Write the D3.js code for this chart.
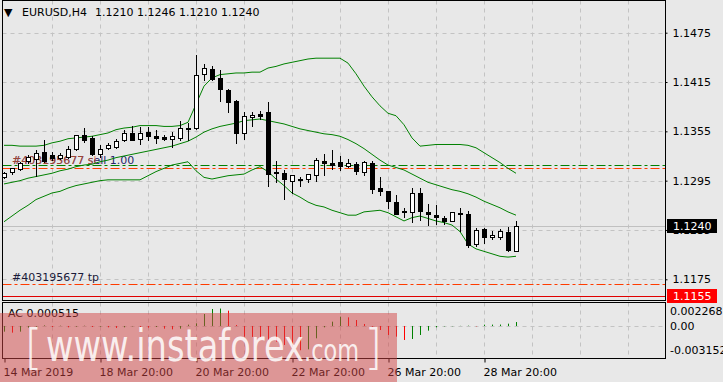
<!DOCTYPE html>
<html>
<head>
<meta charset="utf-8">
<script src="https://cdn.jsdelivr.net/npm/d3@7"></script>
<style>
  body { margin: 0; background: #e8e8e8; }
  text { font-family: "DejaVu Sans", sans-serif; font-size: 11px; }
</style>
</head>
<body>
<div id="chart"></div>
<script>
// EURUSD H4 candles, 14 Mar 2019 20:00 .. 29 Mar 2019 12:00
const opens  = [1.1300,1.1305,1.1309,1.1319,1.1321,1.1330,1.1326,1.1323,1.1324,1.1333,1.1351,1.1347,1.1328,1.1335,1.1336,1.1344,1.1353,1.1346,1.1354,1.1349,1.1348,1.1346,1.1347,1.1359,1.1359,1.1425,1.1431,1.1420,1.1405,1.1392,1.1353,1.1373,1.1376,1.1378,1.1306,1.1304,1.1295,1.1296,1.1297,1.1302,1.1319,1.1316,1.1318,1.1313,1.1315,1.1306,1.1316,1.1286,1.1283,1.1269,1.1257,1.1257,1.1280,1.1257,1.1253,1.1250,1.1246,1.1254,1.1254,1.1218,1.1236,1.1227,1.1226,1.1233,1.1210];
const highs  = [1.1306,1.1311,1.1318,1.1326,1.1332,1.1345,1.1330,1.1329,1.1337,1.1351,1.1359,1.1349,1.1338,1.1341,1.1346,1.1357,1.1361,1.1360,1.1360,1.1357,1.1351,1.1354,1.1367,1.1365,1.1448,1.1437,1.1435,1.1430,1.1406,1.1393,1.1379,1.1378,1.1380,1.1391,1.1319,1.1308,1.1302,1.1300,1.1303,1.1323,1.1327,1.1332,1.1325,1.1321,1.1318,1.1319,1.1319,1.1299,1.1283,1.1277,1.1262,1.1286,1.1286,1.1267,1.1265,1.1252,1.1257,1.1262,1.1258,1.1238,1.1238,1.1234,1.1236,1.1239,1.1246];
const lows   = [1.1298,1.1303,1.1308,1.1317,1.1301,1.1318,1.1320,1.1321,1.1323,1.1332,1.1342,1.1326,1.1324,1.1333,1.1335,1.1343,1.1344,1.1339,1.1345,1.1341,1.1344,1.1336,1.1345,1.1345,1.1358,1.1418,1.1418,1.1392,1.1379,1.1341,1.1346,1.1361,1.1370,1.1289,1.1293,1.1273,1.1280,1.1289,1.1293,1.1294,1.1302,1.1309,1.1308,1.1312,1.1303,1.1302,1.1280,1.1278,1.1262,1.1254,1.1251,1.1245,1.1247,1.1241,1.1242,1.1242,1.1246,1.1234,1.1214,1.1216,1.1219,1.1224,1.1224,1.1210,1.1210];
const closes = [1.1304,1.1310,1.1316,1.1324,1.1329,1.1319,1.1323,1.1326,1.1334,1.1350,1.1345,1.1327,1.1334,1.1338,1.1343,1.1353,1.1345,1.1353,1.1349,1.1347,1.1346,1.1349,1.1359,1.1358,1.1423,1.1432,1.1419,1.1406,1.1391,1.1353,1.1374,1.1375,1.1374,1.1303,1.1304,1.1297,1.1302,1.1297,1.1303,1.1320,1.1316,1.1314,1.1313,1.1316,1.1307,1.1318,1.1285,1.1283,1.1270,1.1255,1.1258,1.1280,1.1258,1.1254,1.1251,1.1246,1.1257,1.1256,1.1217,1.1235,1.1226,1.1229,1.1234,1.1211,1.1240];

// Bollinger bands
const bbUpper  = [1.1338,1.1338,1.1337,1.1337,1.1337,1.1338,1.1341,1.1343,1.1346,1.1347,1.1348,1.1349,1.1351,1.1353,1.1357,1.1359,1.1360,1.1362,1.1362,1.1362,1.1361,1.1361,1.1362,1.1366,1.1388,1.1410,1.1420,1.1424,1.1425,1.1426,1.1426,1.1427,1.1427,1.1432,1.1434,1.1437,1.1439,1.1441,1.1443,1.1444,1.1444,1.1444,1.1444,1.1438,1.1425,1.1410,1.1397,1.1386,1.1377,1.1374,1.1363,1.1347,1.1337,1.1338,1.1339,1.1339,1.1339,1.1339,1.1338,1.1335,1.1329,1.1323,1.1317,1.1310,1.1304];
const bbMiddle = [1.1291,1.1293,1.1295,1.1298,1.1300,1.1302,1.1304,1.1307,1.1309,1.1312,1.1314,1.1315,1.1318,1.1320,1.1323,1.1325,1.1327,1.1329,1.1331,1.1333,1.1335,1.1337,1.1340,1.1343,1.1348,1.1354,1.1358,1.1361,1.1363,1.1365,1.1368,1.1369,1.1370,1.1368,1.1366,1.1364,1.1361,1.1358,1.1356,1.1354,1.1352,1.1351,1.1349,1.1345,1.1340,1.1334,1.1327,1.1320,1.1314,1.1311,1.1308,1.1303,1.1298,1.1293,1.1290,1.1287,1.1284,1.1282,1.1279,1.1275,1.1270,1.1266,1.1262,1.1257,1.1253];
const bbLower  = [1.1245,1.1252,1.1259,1.1265,1.1272,1.1276,1.1280,1.1282,1.1286,1.1289,1.1291,1.1293,1.1295,1.1296,1.1296,1.1296,1.1296,1.1296,1.1301,1.1306,1.1310,1.1314,1.1316,1.1318,1.1307,1.1299,1.1297,1.1299,1.1301,1.1302,1.1303,1.1308,1.1312,1.1306,1.1297,1.1289,1.1280,1.1275,1.1269,1.1265,1.1263,1.1259,1.1256,1.1253,1.1253,1.1257,1.1258,1.1259,1.1256,1.1251,1.1246,1.1250,1.1252,1.1249,1.1246,1.1244,1.1241,1.1233,1.1218,1.1212,1.1209,1.1206,1.1203,1.1202,1.1203];

// Accelerator Oscillator
const acValues = [-0.000736,-0.000866,-0.000736,-0.000217,-0.000087,0.000087,-0.000130,0.000043,-0.000173,-0.000087,0.000043,-0.000130,-0.000087,-0.000173,-0.000260,-0.000173,-0.000043,-0.000130,-0.000217,-0.000130,-0.000346,-0.000433,-0.000346,0.000173,0.000346,0.001559,0.002210,0.002268,0.001992,0.000130,-0.001386,-0.001420,-0.001472,-0.001819,-0.002035,-0.002468,-0.002685,-0.003152,-0.003031,-0.001602,-0.000173,0.000563,0.001212,0.001126,0.000779,0.000260,-0.000087,-0.000520,-0.001169,-0.001386,-0.001819,-0.001689,-0.001169,-0.000606,-0.000173,-0.000043,-0.000030,0.000020,0.000043,-0.000040,0.000173,0.000180,0.000190,0.000303,0.000515];

const priceTicks = [1.1175, 1.1235, 1.1295, 1.1355, 1.1415, 1.1475];
const timeLabels = ["14 Mar 2019", "18 Mar 20:00", "20 Mar 20:00", "22 Mar 20:00", "26 Mar 20:00", "28 Mar 20:00"];
const timeLabelBars = [0, 12, 24, 36, 48, 60];
const acLabels = [0.002268, 0, -0.003152];

const symbolTitle = "EURUSD,H4";
const ohlcTitle = "1.1210 1.1246 1.1210 1.1240";
const acTitle = "AC 0.000515";
const orderPrice = 1.1314, slPrice = 1.1310, tpPrice = 1.1169, alertPrice = 1.1155, bidPrice = 1.1240;
const orderText = "#403195677 sell 1.00", slText = "#403195677 sl", tpText = "#403195677 tp";

const W = 723, H = 382;
const main = {left: 2.5, right: 665.5, top: 0.5, bottom: 300.5};
const sub = {top: 302.5, bottom: 358.5};

const svg = d3.select("#chart").append("svg")
    .attr("width", W)
    .attr("height", H)
    .style("background", "#e8e8e8");

const x = d3.scaleLinear().domain([0, 64]).range([4, 516]);
const y = d3.scaleLinear().domain([1.1175, 1.1475]).range([279.3, 32.7]);
const yAC = d3.scaleLinear().domain([-0.003152, 0.002268]).range([350.25, 308.55]);

svg.append("clipPath").attr("id", "clipMain")
  .append("rect").attr("x", main.left).attr("y", main.top)
    .attr("width", main.right - main.left).attr("height", main.bottom - main.top);
svg.append("clipPath").attr("id", "clipSub")
  .append("rect").attr("x", main.left).attr("y", sub.top)
    .attr("width", main.right - main.left).attr("height", sub.bottom - sub.top);

const gMain = svg.append("g").attr("clip-path", "url(#clipMain)");
const gSub = svg.append("g").attr("clip-path", "url(#clipSub)");

// Grid
const gridColor = "#c3c3c3";
const gridBars = d3.range(6, 79, 6);
[gMain, gSub].forEach((g, k) => {
  g.selectAll(".vgrid").data(gridBars).join("line")
    .attr("x1", d => Math.round(x(d)) + 0.5).attr("x2", d => Math.round(x(d)) + 0.5)
    .attr("y1", k === 0 ? main.top : sub.top).attr("y2", k === 0 ? main.bottom : sub.bottom)
    .attr("stroke", gridColor).attr("stroke-dasharray", "4,4");
});
gMain.selectAll(".hgrid").data(priceTicks).join("line")
  .attr("x1", main.left).attr("x2", main.right)
  .attr("y1", d => Math.round(y(d)) + 0.5).attr("y2", d => Math.round(y(d)) + 0.5)
  .attr("stroke", gridColor).attr("stroke-dasharray", "4,4");
gSub.append("line")
  .attr("x1", main.left).attr("x2", main.right)
  .attr("y1", Math.round(yAC(0)) + 0.5).attr("y2", Math.round(yAC(0)) + 0.5)
  .attr("stroke", gridColor).attr("stroke-dasharray", "4,4");

// Horizontal trade levels
function level(price, color, dash) {
  const yy = Math.round(y(price)) + 0.5;
  gMain.append("line")
    .attr("x1", main.left).attr("x2", main.right)
    .attr("y1", yy).attr("y2", yy)
    .attr("stroke", color).attr("stroke-width", 1)
    .attr("stroke-dasharray", dash);
}
level(bidPrice, "#c0c0c0", null);
level(orderPrice, "#008000", "9,3,3,3");
level(slPrice, "#ff3c00", "9,3,3,3");
level(tpPrice, "#ff3c00", "9,3,3,3");
level(alertPrice, "#e00000", null);

// Level labels (sell and sl texts overlap, as in the terminal)
gMain.append("text").attr("x", 12).attr("y", Math.round(y(slPrice)) - 4)
  .attr("fill", "#24246a").text(orderText);
gMain.append("text").attr("x", 12).attr("y", Math.round(y(slPrice)) - 4)
  .attr("fill", "#e35a1a").attr("fill-opacity", 0.65).text(slText);
gMain.append("text").attr("x", 12).attr("y", Math.round(y(tpPrice)) - 3)
  .attr("fill", "#1a1a3a").text(tpText);

// Bollinger bands
const bandLine = d3.line().x((d, i) => x(i)).y(d => y(d));
[bbUpper, bbMiddle, bbLower].forEach(band => {
  gMain.append("path")
    .datum(band)
    .attr("fill", "none")
    .attr("stroke", "#008000")
    .attr("stroke-width", 1)
    .attr("d", bandLine);
});

// Candles
const candles = opens.map((o, i) => ({i, o, h: highs[i], l: lows[i], c: closes[i]}));
const gc = gMain.append("g");
candles.forEach(d => {
  const cx = Math.round(x(d.i));
  gc.append("line")
    .attr("x1", cx + 0.5).attr("x2", cx + 0.5)
    .attr("y1", Math.round(y(d.h))).attr("y2", Math.round(y(d.l)) + 1)
    .attr("stroke", "#000");
  const top = Math.round(y(Math.max(d.o, d.c)));
  const bot = Math.round(y(Math.min(d.o, d.c)));
  if (bot - top < 1) {
    gc.append("line")
      .attr("x1", cx - 2).attr("x2", cx + 3)
      .attr("y1", top + 0.5).attr("y2", top + 0.5)
      .attr("stroke", "#000");
  } else {
    gc.append("rect")
      .attr("x", cx - 1.5).attr("y", top + 0.5)
      .attr("width", 4).attr("height", bot - top)
      .attr("fill", d.c >= d.o ? "#fff" : "#000")
      .attr("stroke", "#000");
  }
});

// AC histogram
acValues.forEach((v, i) => {
  const prev = i > 0 ? acValues[i - 1] : v;
  const cx = Math.round(x(i)) + 0.5;
  gSub.append("line")
    .attr("x1", cx).attr("x2", cx)
    .attr("y1", yAC(0)).attr("y2", yAC(v))
    .attr("stroke", v >= prev ? "#008000" : "#ff0000")
    .attr("stroke-width", 1);
});
svg.append("text").attr("x", 8).attr("y", 317).attr("fill", "#000").text(acTitle);

// Frames
svg.append("rect").attr("x", main.left).attr("y", main.top)
  .attr("width", main.right - main.left).attr("height", main.bottom - main.top)
  .attr("fill", "none").attr("stroke", "#000");
svg.append("rect").attr("x", main.left).attr("y", sub.top)
  .attr("width", main.right - main.left).attr("height", sub.bottom - sub.top)
  .attr("fill", "none").attr("stroke", "#000");

// Price axis
const yAxis = svg.append("g")
  .attr("transform", `translate(${main.right},0)`)
  .call(d3.axisRight(y).tickValues(priceTicks).tickFormat(d3.format(".4f")).tickSize(2).tickPadding(5));
yAxis.select(".domain").remove();
yAxis.selectAll("text").attr("font-family", "DejaVu Sans").attr("font-size", 11).attr("fill", "#000");

// Current price labels
function priceBox(price, fill) {
  const yy = Math.round(y(price));
  svg.append("rect").attr("x", 667).attr("y", yy - 7).attr("width", 50).attr("height", 14).attr("fill", fill);
  svg.append("text").attr("x", 673).attr("y", yy + 4).attr("fill", "#fff").text(d3.format(".4f")(price));
}
priceBox(bidPrice, "#000");
priceBox(alertPrice, "#ff0000");

// AC axis labels
svg.selectAll(".aclab").data(acLabels).join("text")
  .attr("x", 670)
  .attr("y", (d, i) => yAC(d) + (i === 0 ? 6.5 : 4))
  .attr("fill", "#000")
  .text(d => d === 0 ? "0.00" : d3.format(".6f")(d).replace("−", "-"));

// Time axis
const xAxis = svg.append("g")
  .attr("transform", `translate(0,${sub.bottom})`)
  .call(d3.axisBottom(x).tickValues(timeLabelBars).tickSize(4).tickPadding(6)
    .tickFormat((d, i) => timeLabels[i]));
xAxis.select(".domain").remove();
xAxis.selectAll(".tick line").attr("transform", "translate(0.5,0)");
xAxis.selectAll("text")
  .attr("text-anchor", "start").attr("dx", -1)
  .attr("font-family", "DejaVu Sans").attr("font-size", 11).attr("fill", "#000");

// Title
svg.append("text").attr("x", 4).attr("y", 16).attr("font-size", 12).attr("fill", "#000").text("▼");
svg.append("text").attr("x", 22).attr("y", 16).attr("fill", "#000").text(symbolTitle);
svg.append("text").attr("x", 95).attr("y", 16).attr("fill", "#000").text(ohlcTitle);

// Watermark
const wm = svg.append("g");
wm.append("rect").attr("x", 0).attr("y", 313).attr("width", 397).attr("height", 69)
  .attr("fill", "rgb(210,68,68)").attr("fill-opacity", 0.5);
const wmText = wm.append("g").attr("fill", "#fff").attr("fill-opacity", 0.85)
  .style("font-family", "'Open Sans', 'DejaVu Sans', sans-serif");
wmText.append("text").attr("x", 24).attr("y", 364).style("font-size", "48px").style("font-weight", 300).text("[");
wmText.append("text").attr("x", 46).attr("y", 361).style("font-size", "44px")
  .attr("textLength", 258).attr("lengthAdjust", "spacingAndGlyphs").text("www.instaforex");
wmText.append("text").attr("x", 304).attr("y", 361).style("font-size", "30px")
  .attr("textLength", 55).attr("lengthAdjust", "spacingAndGlyphs").text(".com");
wmText.append("text").attr("x", 364).attr("y", 364).style("font-size", "48px").style("font-weight", 300).text("]");
</script>
</body>
</html>
